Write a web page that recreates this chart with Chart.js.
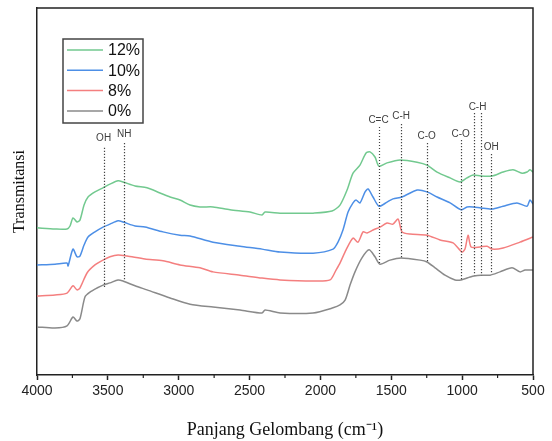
<!DOCTYPE html>
<html>
<head>
<meta charset="utf-8">
<script src="https://cdn.jsdelivr.net/npm/chart.js@4.4.1/dist/chart.umd.min.js"></script>
<style>
  html, body { margin: 0; padding: 0; background: #fff; }
  #chart { display: block; }
</style>
</head>
<body>
<canvas id="chart" width="552" height="441"></canvas>
<script>
// FTIR spectra, transmittance (arbitrary units, stacked) vs wavenumber (cm-1)
const seriesLabels = ["12%", "10%", "8%", "0%"];
const seriesColors = ["#72c98f", "#4d8fe6", "#f47f7f", "#8a8a8a"];

const wn12 = [4000, 3873, 3788, 3767, 3746, 3718, 3697, 3668, 3640, 3591, 3534, 3485, 3428, 3393, 3308, 3224, 3132, 3061, 2991, 2920, 2850, 2758, 2638, 2497, 2412, 2391, 2285, 2144, 2052, 1918, 1862, 1812, 1770, 1721, 1678, 1650, 1615, 1587, 1530, 1438, 1318, 1248, 1177, 1085, 1015, 966, 923, 867, 789, 711, 641, 577, 542, 521, 500];
const t12 = [40.1, 39.8, 39.8, 40.6, 42.8, 41.7, 42.2, 46.3, 48.5, 49.9, 51.0, 52.0, 52.9, 52.6, 51.5, 51.0, 49.6, 48.5, 47.7, 46.3, 45.8, 45.8, 45.0, 44.4, 43.6, 44.4, 44.1, 44.1, 44.1, 44.7, 46.3, 50.4, 55.0, 57.2, 60.5, 60.8, 59.4, 56.9, 57.8, 58.6, 58.0, 57.2, 55.3, 53.7, 52.6, 53.7, 54.5, 54.2, 54.2, 55.3, 55.9, 55.0, 55.3, 55.9, 55.3];

const wn10 = [4000, 3873, 3788, 3781, 3746, 3718, 3697, 3668, 3640, 3591, 3534, 3485, 3428, 3393, 3308, 3238, 3111, 2991, 2920, 2758, 2567, 2412, 2285, 2052, 1911, 1876, 1841, 1805, 1770, 1749, 1721, 1685, 1664, 1629, 1587, 1530, 1488, 1424, 1318, 1248, 1177, 1085, 1008, 966, 923, 867, 789, 711, 613, 542, 521, 500];
const t10 = [30.0, 30.2, 30.5, 29.7, 34.3, 32.2, 32.4, 35.4, 37.6, 39.0, 40.3, 41.1, 42.0, 41.7, 40.6, 40.3, 39.0, 38.1, 37.9, 36.2, 35.1, 34.3, 33.5, 33.2, 34.3, 36.2, 39.5, 44.4, 46.9, 47.7, 46.9, 49.9, 50.7, 48.5, 46.0, 47.1, 48.0, 48.5, 50.4, 49.9, 48.5, 46.9, 45.0, 45.8, 45.8, 45.5, 45.2, 46.0, 46.9, 46.0, 47.7, 46.6];

const wn8 = [4000, 3873, 3788, 3746, 3718, 3697, 3647, 3591, 3534, 3485, 3428, 3365, 3238, 3111, 2991, 2850, 2758, 2567, 2412, 2285, 2052, 1932, 1890, 1862, 1819, 1770, 1735, 1699, 1671, 1629, 1580, 1530, 1488, 1452, 1424, 1368, 1248, 1156, 1064, 1001, 980, 958, 937, 874, 824, 789, 711, 592, 500];
const t8 = [21.5, 21.8, 22.3, 24.3, 23.2, 23.7, 27.8, 30.0, 31.3, 32.2, 32.7, 32.4, 31.6, 31.1, 30.0, 29.2, 28.1, 27.2, 26.4, 25.9, 25.6, 25.9, 28.6, 30.5, 34.1, 37.3, 36.2, 39.0, 38.7, 39.5, 40.3, 41.4, 41.1, 42.5, 39.0, 38.4, 38.1, 36.8, 36.0, 33.5, 34.3, 38.1, 34.9, 34.9, 35.1, 34.3, 34.6, 36.2, 37.6];

const wn0 = [4000, 3873, 3788, 3746, 3718, 3697, 3661, 3626, 3577, 3534, 3485, 3428, 3393, 3308, 3224, 3061, 2920, 2758, 2567, 2412, 2391, 2285, 2052, 1911, 1862, 1826, 1791, 1756, 1707, 1657, 1615, 1580, 1509, 1431, 1297, 1248, 1191, 1121, 1050, 1008, 944, 916, 867, 803, 733, 648, 592, 556, 500];
const t0 = [13.1, 12.8, 13.4, 15.8, 14.7, 15.3, 21.3, 22.6, 23.7, 24.5, 25.1, 25.9, 25.6, 24.3, 23.2, 21.0, 19.3, 18.5, 17.7, 16.9, 17.7, 16.9, 16.9, 18.3, 19.1, 20.4, 24.5, 28.1, 31.9, 34.1, 32.2, 30.2, 31.3, 31.9, 31.3, 30.8, 29.2, 27.2, 25.9, 25.9, 26.7, 27.0, 27.2, 27.2, 28.1, 29.2, 28.1, 28.6, 28.6];

const xTicks = [4000, 3500, 3000, 2500, 2000, 1500, 1000, 500];

// band assignments: label, wavenumber(s), label level, dotted line top / bottom (y units)
const peakNames = ["OH", "NH", "C=C", "C-H", "C-O", "C-O", "C-H", "OH"];
const peakWn = [[3530], [3385], [1590], [1430], [1250], [1010], [916, 867], [795]];
const peakLabelAt = [64.6, 65.7, 69.5, 70.6, 65.1, 65.7, 73.0, 62.1];
const peakLineTop = [61.9, 63.2, 67.6, 68.4, 63.2, 64.0, 71.4, 60.2];
const peakLineBottom = [24.0, 25.9, 30.0, 31.9, 30.5, 25.9, 27.2, 27.8];

const wnSets = [wn12, wn10, wn8, wn0];
const tSets = [t12, t10, t8, t0];

const datasets = seriesLabels.map((label, i) => ({
  label: label,
  data: wnSets[i].map((w, j) => ({ x: w, y: tSets[i][j] })),
  borderColor: seriesColors[i],
  borderWidth: 1.5,
  pointRadius: 0,
  tension: 0.25,
  fill: false,
}));

const frameAndNotes = {
  id: "frameAndNotes",
  afterDatasetsDraw(chart) {
    const { ctx, chartArea: a, scales: { x, y } } = chart;
    ctx.save();

    // dotted band markers
    ctx.strokeStyle = "#444";
    ctx.lineWidth = 1.2;
    ctx.setLineDash([1.2, 1.8]);
    peakNames.forEach((name, i) => {
      peakWn[i].forEach(w => {
        const px = Math.round(x.getPixelForValue(w)) + 0.5;
        ctx.beginPath();
        ctx.moveTo(px, y.getPixelForValue(peakLineTop[i]));
        ctx.lineTo(px, y.getPixelForValue(peakLineBottom[i]));
        ctx.stroke();
      });
    });
    ctx.setLineDash([]);
    ctx.fillStyle = "#404040";
    ctx.font = "10px 'Liberation Sans', Arial, sans-serif";
    ctx.textAlign = "center";
    ctx.textBaseline = "middle";
    peakNames.forEach((name, i) => {
      const ws = peakWn[i];
      const mid = ws.reduce((s, w) => s + x.getPixelForValue(w), 0) / ws.length;
      ctx.fillText(name, mid, y.getPixelForValue(peakLabelAt[i]));
    });

    // top and right frame lines
    ctx.strokeStyle = "#222";
    ctx.lineWidth = 1.5;
    ctx.beginPath();
    ctx.moveTo(a.left, a.top);
    ctx.lineTo(a.right, a.top);
    ctx.lineTo(a.right, a.bottom);
    ctx.stroke();

    // minor ticks on the x axis
    ctx.lineWidth = 1.2;
    for (let w = 3750; w > 500; w -= 500) {
      const px = x.getPixelForValue(w);
      ctx.beginPath();
      ctx.moveTo(px, a.bottom);
      ctx.lineTo(px, a.bottom + 3);
      ctx.stroke();
    }

    // legend box
    const lx = a.left + 26, ly = a.top + 31, lw = 80, lh = 84;
    ctx.fillStyle = "#fff";
    ctx.fillRect(lx, ly, lw, lh);
    ctx.strokeStyle = "#444";
    ctx.lineWidth = 1.5;
    ctx.strokeRect(lx, ly, lw, lh);
    ctx.font = "16px 'Liberation Sans', Arial, sans-serif";
    ctx.textAlign = "left";
    ctx.textBaseline = "middle";
    chart.data.datasets.forEach((ds, i) => {
      const ry = ly + 11 + i * 20.3;
      ctx.strokeStyle = ds.borderColor;
      ctx.lineWidth = 1.5;
      ctx.beginPath();
      ctx.moveTo(lx + 4, ry);
      ctx.lineTo(lx + 40, ry);
      ctx.stroke();
      ctx.fillStyle = "#111";
      ctx.fillText(ds.label, lx + 45, ry + 1);
    });
    ctx.restore();
  },
};

new Chart(document.getElementById("chart"), {
  type: "line",
  data: { datasets: datasets },
  options: {
    responsive: false,
    animation: false,
    layout: { padding: { top: 8, right: 19, left: 0, bottom: 0 } },
    plugins: { legend: { display: false }, tooltip: { enabled: false } },
    scales: {
      x: {
        type: "linear",
        reverse: true,
        min: 500,
        max: 4000,
        afterBuildTicks: scale => { scale.ticks = xTicks.map(v => ({ value: v })); },
        afterFit: scale => { scale.height = 66; },
        ticks: {
          color: "#222",
          font: { family: "'Liberation Sans', Arial, sans-serif", size: 14 },
          padding: 3,
          maxRotation: 0,
          autoSkip: false,
          callback: v => String(v),
        },
        grid: { display: true, drawOnChartArea: false, drawTicks: true, tickLength: 5, tickColor: "#222", tickWidth: 1.5 },
        border: { display: true, color: "#222", width: 1.5 },
        title: {
          display: true,
          text: "Panjang Gelombang (cm\u207B\u00B9)",
          color: "#111",
          font: { family: "'Liberation Serif', 'Times New Roman', serif", size: 18, weight: "normal" },
          padding: { top: 0, bottom: 0 },
        },
      },
      y: {
        min: 0,
        max: 100,
        afterFit: scale => { scale.width = 37; },
        ticks: { display: false },
        grid: { display: false },
        border: { display: true, color: "#222", width: 1.5 },
        title: {
          display: true,
          text: "Transmitansi",
          color: "#111",
          font: { family: "'Liberation Serif', 'Times New Roman', serif", size: 16, weight: "normal" },
          padding: { top: 10, bottom: 0 },
        },
      },
    },
  },
  plugins: [frameAndNotes],
});
</script>
</body>
</html>
